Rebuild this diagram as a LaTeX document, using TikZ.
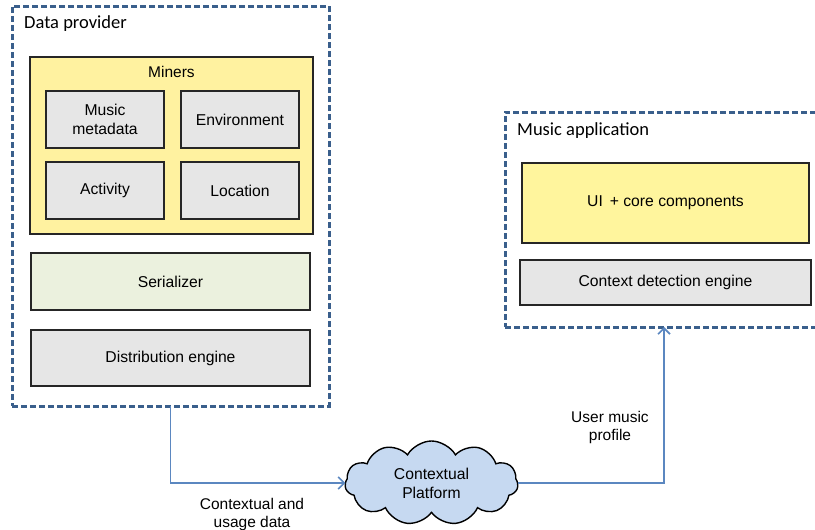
\documentclass[tikz,border=0pt]{standalone}
\usepackage{fontspec}
\setmainfont{Liberation Sans}
\newfontfamily\calfont{Carlito}
\usetikzlibrary{arrows.meta,shapes.symbols}
\definecolor{dashblue}{HTML}{3A5F8C}
\definecolor{arrblue}{HTML}{5B87C0}
\definecolor{minyellow}{HTML}{FFF2A0}
\definecolor{uiyellow}{HTML}{FFF59D}
\definecolor{boxgray}{HTML}{E6E6E6}
\definecolor{sergreen}{HTML}{EBF1DE}
\definecolor{cloudblue}{HTML}{C6D9F1}
\tikzset{
  group/.style={draw=dashblue, line width=3pt, dash pattern=on 6pt off 3pt, rectangle, inner sep=0pt, outer sep=0pt},
  comp/.style={draw=black!85, line width=1.6pt, rectangle, inner sep=0pt, outer sep=0pt, align=center, font=\fontsize{15.7}{19}\selectfont},
  arr/.style={draw=arrblue, line width=1.6pt, -{Straight Barb[length=6pt,width=12pt,line width=1.6pt]}},
  lbl/.style={align=center, font=\fontsize{15.5}{18}\selectfont},
}
\begin{document}
\begin{tikzpicture}[x=1pt,y=-1pt]
\useasboundingbox (0,0) rectangle (815,530);
% groups
\node[group, minimum width=317pt, minimum height=400pt] (dp) at (170.5,206) {};
\node[group, minimum width=318pt, minimum height=215pt] (ma) at (664,219.5) {};
\node[anchor=base west, inner sep=0pt, font=\calfont\fontsize{18.5}{20}\selectfont] (dpl) at (24,28) {Data provider};
\node[anchor=base west, inner sep=0pt, font=\calfont\fontsize{18.5}{20}\selectfont] (mal) at (517,135) {Music application};
% data provider content
\node[comp, fill=minyellow, minimum width=283pt, minimum height=177pt] (miners) at (171.5,145.5) {};
\node[lbl] (minl) at (171.5,72) {Miners};
\node[comp, fill=boxgray, minimum width=118pt, minimum height=57pt] (mm) at (105,119.5) {Music\\metadata};
\node[comp, fill=boxgray, minimum width=118pt, minimum height=57pt] (env) at (240,119.5) {Environment};
\node[comp, fill=boxgray, minimum width=118pt, minimum height=57pt] (act) at (105,190.5) {Activity};
\node[comp, fill=boxgray, minimum width=118pt, minimum height=57pt] (loc) at (240,190.5) {Location};
\node[comp, fill=sergreen, minimum width=279pt, minimum height=57pt] (ser) at (170.5,281.5) {Serializer};
\node[comp, fill=boxgray, minimum width=279pt, minimum height=56pt] (dist) at (170.5,358) {Distribution engine};
% music application content
\node[comp, fill=uiyellow, minimum width=287pt, minimum height=80pt] (ui) at (665.5,203) {UI \,+ core components};
\node[comp, fill=boxgray, minimum width=291pt, minimum height=45pt] (cde) at (665.5,282.5) {Context detection engine};
% cloud
\node[cloud, cloud puffs=11, cloud puff arc=120, cloud ignores aspect, draw=black, line width=1.4pt, fill=cloudblue,
      minimum width=173pt, minimum height=84pt, inner sep=0pt, outer sep=0pt, align=center,
      font=\fontsize{15.7}{19}\selectfont] (cloud) at (431.5,483) {Contextual\\Platform};
% connectors
\draw[arr] (dp.south) |- (cloud.west);
\draw[arr] (cloud.east) -| (ma.south);
\node[lbl] (l1) at (252,514) {Contextual and\\usage data};
\node[lbl] (l2) at (610,427) {User music\\profile};
\end{tikzpicture}
\end{document}
